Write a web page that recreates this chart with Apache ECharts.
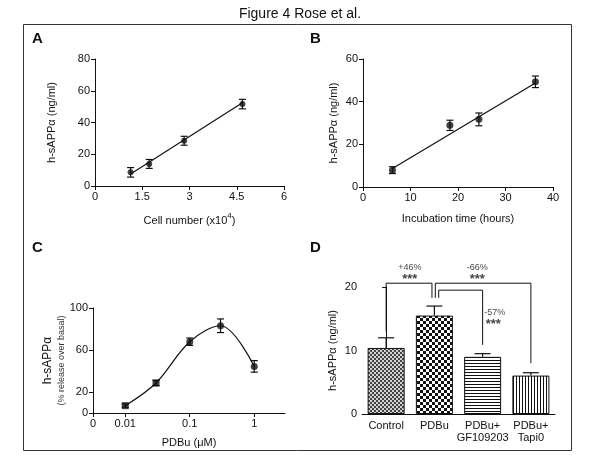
<!DOCTYPE html>
<html>
<head>
<meta charset="utf-8">
<script src="https://cdn.jsdelivr.net/npm/echarts@6/dist/echarts.min.js"></script>
<style>
  html, body { margin: 0; padding: 0; background: #fff; }
  #chart { width: 600px; height: 455px; }
</style>
</head>
<body>
<div id="chart"></div>
<script>
// Panel A - cell number
const cellNumber = [1.13, 1.72, 2.83, 4.68]
const sAppA = [8.6, 13.9, 28.5, 51.6]
const sAppAErr = [3.0, 2.8, 2.8, 3.0]
const fitAx = [1.13, 4.68]
const fitAy = [7.6, 52.4]

// Panel B - incubation time
const hours = [6.2, 18.3, 24.4, 36.3]
const sAppB = [7.9, 28.9, 31.7, 49.3]
const sAppBErr = [1.6, 2.4, 3.0, 2.7]
const fitBx = [6.2, 36.3]
const fitBy = [8.7, 48.7]

// Panel C - PDBu dose response
const pdbuDose = [0.01, 0.03, 0.1, 0.3, 1]
const releaseC = [7, 28.6, 67.9, 83.1, 44.4]
const releaseCErr = [1.5, 2.5, 3.5, 6.5, 5.5]
const cTickValues = [0.00316, 0.01, 0.1, 1]
const cTickLabels = ['0', '0.01', '0.1', '1']
const cYTicks = [0, 20, 60, 100]

// Panel D - treatments
const treatments = ['Control', 'PDBu', 'PDBu+\nGF109203', 'PDBu+\nTapi0']
const sAppD = [10.4, 15.5, 9.0, 6.05]
const sAppDErr = [1.6, 1.5, 0.5, 0.45]
const bracketX = [[0, 0, 0.95, 0.95], [1.02, 1.02, 3.0, 3.0], [1.09, 1.09, 2.0, 2.0]]
const bracketY = [[13.0, 20.6, 20.6, 18.3], [18.3, 20.6, 20.6, 8.0], [18.3, 19.5, 19.5, 10.9]]
const pctText = ['+46%', '-66%', '-57%']
const pctX = [0.49, 1.89, 2.25]
const pctY = [23.0, 23.0, 16.0]
const starX = [0.49, 1.89, 2.22]
const starY = [21.2, 21.2, 14.1]

const FONT = 'Liberation Sans, Arial, sans-serif'
const black = '#111'

// fill patterns for panel D
const makePattern = (w, h, draw) => {
  const c = document.createElement('canvas')
  c.width = w
  c.height = h
  const ctx = c.getContext('2d')
  draw(ctx)
  return { image: c, repeat: 'repeat' }
}
const patterns = [
  makePattern(4, 4, ctx => {
    ctx.fillStyle = '#d0d0d0'; ctx.fillRect(0, 0, 4, 4)
    ctx.fillStyle = '#444'; ctx.fillRect(0, 0, 2, 2); ctx.fillRect(2, 2, 2, 2)
  }),
  makePattern(6, 6, ctx => {
    ctx.fillStyle = '#fff'; ctx.fillRect(0, 0, 6, 6)
    ctx.fillStyle = '#111'; ctx.fillRect(0, 0, 3, 3); ctx.fillRect(3, 3, 3, 3)
  }),
  makePattern(3, 3, ctx => {
    ctx.fillStyle = '#fff'; ctx.fillRect(0, 0, 3, 3)
    ctx.fillStyle = '#111'; ctx.fillRect(0, 0, 3, 1)
  }),
  makePattern(3, 3, ctx => {
    ctx.fillStyle = '#fff'; ctx.fillRect(0, 0, 3, 3)
    ctx.fillStyle = '#111'; ctx.fillRect(0, 0, 1, 3)
  })
]

const axisBase = {
  axisLine: { lineStyle: { color: black, width: 1 } },
  axisTick: { length: 4, lineStyle: { color: black } },
  axisLabel: { color: black, fontSize: 11, fontFamily: FONT, margin: 5 },
  splitLine: { show: false },
  nameTextStyle: { color: black, fontSize: 11, fontFamily: FONT },
  nameLocation: 'middle'
}

const errorBars = (params, api) => {
  const x = api.value(0), y = api.value(1), e = api.value(2)
  const hi = api.coord([x, y + e])
  const lo = api.coord([x, y - e])
  const w = 3.5
  const style = { stroke: black, lineWidth: 1.2 }
  return {
    type: 'group',
    children: [
      { type: 'line', shape: { x1: hi[0], y1: hi[1], x2: lo[0], y2: lo[1] }, style },
      { type: 'line', shape: { x1: hi[0] - w, y1: hi[1], x2: hi[0] + w, y2: hi[1] }, style },
      { type: 'line', shape: { x1: lo[0] - w, y1: lo[1], x2: lo[0] + w, y2: lo[1] }, style }
    ]
  }
}

const barErrors = (params, api) => {
  const i = api.value(0), y = api.value(1), e = api.value(2)
  const base = api.coord([i, y])
  const top = api.coord([i, y + e])
  const w = 8
  const style = { stroke: black, lineWidth: 1.2 }
  return {
    type: 'group',
    children: [
      { type: 'line', shape: { x1: base[0], y1: base[1], x2: top[0], y2: top[1] }, style },
      { type: 'line', shape: { x1: top[0] - w, y1: top[1], x2: top[0] + w, y2: top[1] }, style }
    ]
  }
}

const zip = (xs, ys, es) => xs.map((x, i) => es ? [x, ys[i], es[i]] : [x, ys[i]])

const scatterSet = (axis, xs, ys, es, fx, fy, size, symbol) => {
  const out = [
    {
      type: 'custom', xAxisIndex: axis, yAxisIndex: axis,
      renderItem: errorBars, data: zip(xs, ys, es), z: 3, silent: true
    },
    {
      type: 'scatter', xAxisIndex: axis, yAxisIndex: axis,
      data: zip(xs, ys), symbol: symbol || 'circle', symbolSize: size,
      itemStyle: { color: black }, z: 4, silent: true
    }
  ]
  if (fx) {
    out.push({
      type: 'line', xAxisIndex: axis, yAxisIndex: axis,
      data: zip(fx, fy), showSymbol: false,
      lineStyle: { color: black, width: 1.2 }, z: 2, silent: true
    })
  }
  return out
}

// label lookup for the log axis (works whether value comes raw or as exponent)
const cLabel = v => {
  const lv = v > 0 ? Math.log10(v) : v
  const i = cTickValues.findIndex(t => Math.abs(Math.log10(t) - lv) < 0.05)
  return i < 0 ? '' : cTickLabels[i]
}

const chart = echarts.init(document.getElementById('chart'), null, { renderer: 'canvas' })

const letter = (text, left, top) => ({
  text, left, top, padding: 0,
  textStyle: { fontSize: 15, fontWeight: 'bold', color: black, fontFamily: FONT }
})

chart.setOption({
  backgroundColor: '#fff',
  animation: false,
  title: [
    {
      text: 'Figure 4 Rose et al.', left: 'center', top: 2,
      textStyle: { fontSize: 14, fontWeight: 'normal', color: black, fontFamily: FONT }
    },
    letter('A', 32, 31),
    letter('B', 310, 31),
    letter('C', 32, 240),
    letter('D', 310, 240)
  ],
  graphic: [{
    type: 'rect',
    shape: { x: 23.5, y: 24.5, width: 548, height: 426 },
    style: { fill: 'none', stroke: '#333', lineWidth: 1 },
    silent: true
  }],
  grid: [
    { left: 95, top: 59, width: 189, height: 127, outerBoundsMode: 'none' },
    { left: 363, top: 59, width: 190, height: 128, outerBoundsMode: 'none' },
    { left: 93, top: 308, width: 192, height: 105, outerBoundsMode: 'none' },
    { left: 362, top: 287, width: 193, height: 127, outerBoundsMode: 'none' }
  ],
  xAxis: [
    {
      ...axisBase, gridIndex: 0, type: 'value', min: 0, max: 6, interval: 1.5,
      name: '{t|Cell number (x10}{s|4}{t|)}', nameGap: 26,
      nameTextStyle: {
        rich: {
          t: { fontSize: 11, fontFamily: FONT, color: black, verticalAlign: 'bottom', lineHeight: 14 },
          s: { fontSize: 8, fontFamily: FONT, color: black, verticalAlign: 'top', lineHeight: 14 }
        }
      }
    },
    {
      ...axisBase, gridIndex: 1, type: 'value', min: 0, max: 40, interval: 10,
      name: 'Incubation time (hours)', nameGap: 26
    },
    {
      ...axisBase, gridIndex: 2, type: 'log', logBase: 10, min: 0.00316, max: 3.0,
      axisTick: { ...axisBase.axisTick, customValues: cTickValues },
      axisLabel: {
        ...axisBase.axisLabel, customValues: cTickValues,
        showMinLabel: true, showMaxLabel: true,
        formatter: cLabel
      },
      minorTick: { show: false },
      name: 'PDBu (μM)', nameGap: 24
    },
    {
      ...axisBase, gridIndex: 3, type: 'category', data: treatments,
      axisTick: { show: false },
      axisLabel: { ...axisBase.axisLabel, margin: 6, lineHeight: 12, interval: 0 }
    },
    { gridIndex: 3, type: 'value', min: -0.5, max: 3.5, show: false }
  ],
  yAxis: [
    {
      ...axisBase, gridIndex: 0, type: 'value', min: 0, max: 80, interval: 20,
      name: 'h-sAPPα (ng/ml)', nameGap: 38
    },
    {
      ...axisBase, gridIndex: 1, type: 'value', min: 0, max: 60, interval: 20,
      name: 'h-sAPPα (ng/ml)', nameGap: 24
    },
    {
      ...axisBase, gridIndex: 2, type: 'value', min: 0, max: 100,
      axisTick: { ...axisBase.axisTick, customValues: cYTicks },
      axisLabel: { ...axisBase.axisLabel, customValues: cYTicks },
      name: '{a|h-sAPPα}\n{b|(% release over basal)}', nameGap: 19,
      nameTextStyle: {
        rich: {
          a: { fontSize: 12, fontFamily: FONT, color: black, lineHeight: 16 },
          b: { fontSize: 9, fontFamily: FONT, color: '#333', lineHeight: 11 }
        }
      }
    },
    {
      ...axisBase, gridIndex: 3, type: 'value', min: 0, max: 20, interval: 10,
      name: 'h-sAPPα (ng/ml)', nameGap: 24
    }
  ],
  series: [
    ...scatterSet(0, cellNumber, sAppA, sAppAErr, fitAx, fitAy, 6),
    ...scatterSet(1, hours, sAppB, sAppBErr, fitBx, fitBy, 7),
    ...scatterSet(2, pdbuDose, releaseC, releaseCErr, null, null, 7,
      (val, p) => p.dataIndex < 2 ? 'rect' : 'circle'),
    {
      type: 'line', xAxisIndex: 2, yAxisIndex: 2,
      data: zip(pdbuDose, releaseC), showSymbol: false, smooth: 0.35,
      lineStyle: { color: black, width: 1.2 }, z: 2, silent: true
    },
    {
      type: 'bar', xAxisIndex: 3, yAxisIndex: 3, barWidth: 37,
      data: sAppD.map((v, i) => ({ value: v, itemStyle: { color: patterns[i] } })),
      itemStyle: { borderColor: black, borderWidth: 1 }, z: 2, silent: true
    },
    {
      type: 'custom', xAxisIndex: 3, yAxisIndex: 3, renderItem: barErrors,
      data: sAppD.map((v, i) => [i, v, sAppDErr[i]]), z: 3, silent: true
    },
    ...bracketX.map((xs, k) => ({
      type: 'line', xAxisIndex: 4, yAxisIndex: 3, clip: false,
      data: zip(xs, bracketY[k]), showSymbol: false,
      lineStyle: { color: black, width: 1 }, z: 3, silent: true
    })),
    {
      type: 'scatter', xAxisIndex: 4, yAxisIndex: 3, clip: false, symbolSize: 0,
      data: pctX.map((x, i) => ({ value: [x, pctY[i]], name: pctText[i] })),
      label: { show: true, position: 'inside', formatter: '{b}', color: black, fontSize: 9, fontFamily: FONT },
      silent: true
    },
    {
      type: 'scatter', xAxisIndex: 4, yAxisIndex: 3, clip: false, symbolSize: 0,
      data: starX.map((x, i) => [x, starY[i]]),
      label: { show: true, position: 'inside', formatter: '***', color: black, fontSize: 13, fontWeight: 'bold', fontFamily: FONT },
      silent: true
    }
  ]
})
</script>
</body>
</html>
